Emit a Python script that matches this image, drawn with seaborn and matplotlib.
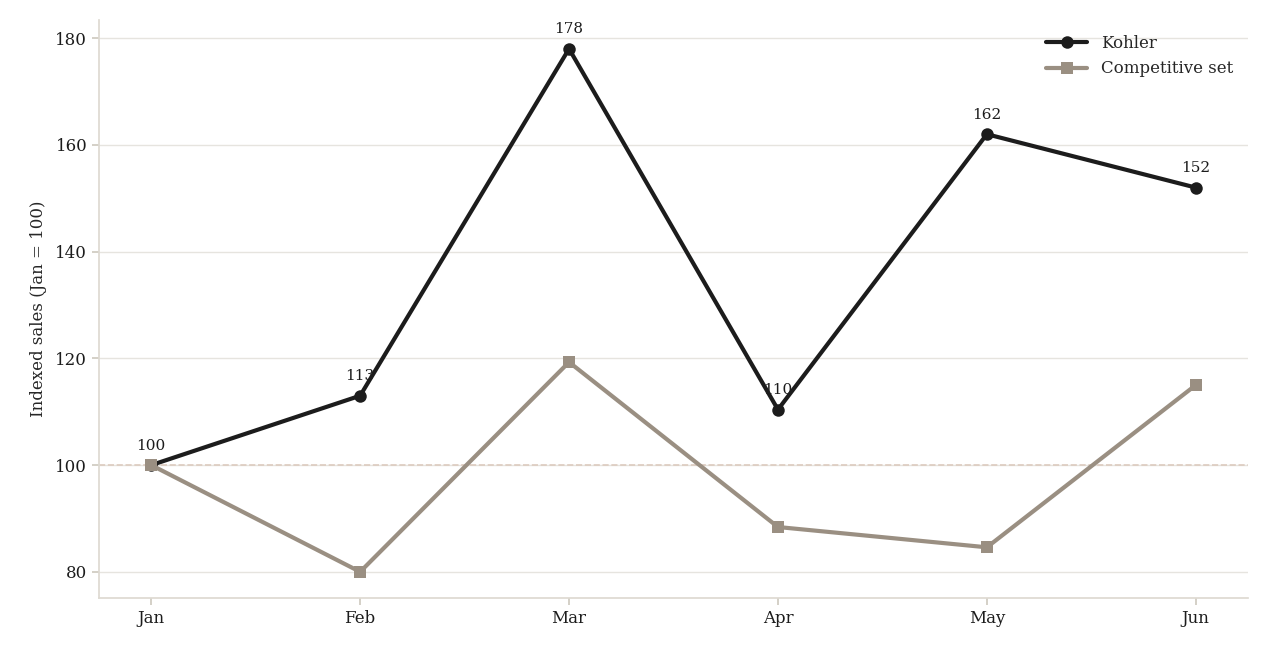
import matplotlib
matplotlib.use("Agg")
import matplotlib.pyplot as plt
import seaborn as sns
import pandas as pd

months = ["Jan", "Feb", "Mar", "Apr", "May", "Jun"]
kohler = [100, 113, 178, 110.4, 162, 152]
comp = [100, 80, 119.3, 88.4, 84.6, 115]
yticks = [80, 100, 120, 140, 160, 180]

sns.set_theme(style="white")
plt.rcParams['font.family'] = ['DejaVu Serif']

fig = plt.figure(figsize=(12.64, 6.53), dpi=100)
ax = fig.add_axes([99/1264, 1-598/653, (1248-99)/1264, (598-20)/653])
x = list(range(len(months)))
df = pd.DataFrame({"x": x, "Kohler": kohler, "Competitive set": comp})

ax.axhline(100, color="#dccbbf", lw=1.2, ls="--", zorder=1)
for i, v in enumerate(kohler):
    ax.annotate(f"{v:.0f}", (i, v), xytext=(0, 9), textcoords="offset points",
                ha="center", va="bottom", fontsize=11, color="#1c1c1c", zorder=2)
sns.lineplot(data=df, x="x", y="Kohler", ax=ax, color="#1c1c1c", lw=3,
             marker="o", markersize=9, markeredgewidth=0, label="Kohler", zorder=3)
sns.lineplot(data=df, x="x", y="Competitive set", ax=ax, color="#9a8f82", lw=3,
             marker="s", markersize=9, markeredgewidth=0, label="Competitive set", zorder=3)

ax.set_xlim(-0.25, 5.25)
ax.set_ylim(75.1, 183.4)
ax.set_xticks(x)
ax.set_xticklabels(months, fontsize=12)
ax.set_yticks(yticks)
ax.set_yticklabels([str(t) for t in yticks], fontsize=12)
ax.set_xlabel("")
ax.set_ylabel("Indexed sales (Jan = 100)", fontsize=12, labelpad=6)
ax.grid(axis="y", color="#e6e4df", lw=1)
ax.tick_params(axis="both", length=5, color="#cfcac0", colors="#1c1c1c", left=True, bottom=True)
for s in ["top", "right"]:
    ax.spines[s].set_visible(False)
for s in ["left", "bottom"]:
    ax.spines[s].set_color("#dedad2")
leg = ax.legend(loc="upper right", frameon=False, fontsize=12, handlelength=2.5)
fig.savefig("out.png", dpi=100)
